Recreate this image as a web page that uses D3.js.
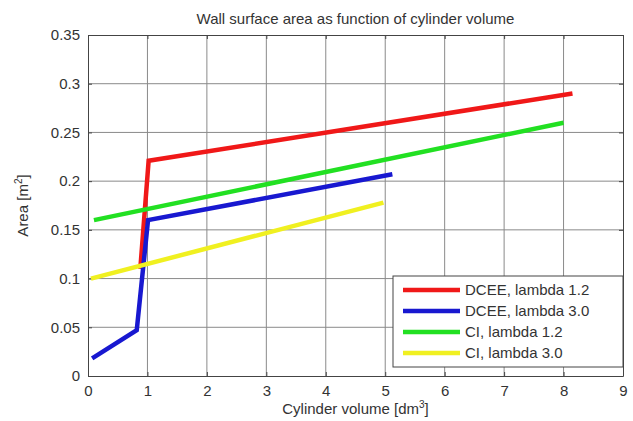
<!DOCTYPE html>
<html lang="en">
<head>
<meta charset="UTF-8">
<title>Wall surface area</title>
<script src="https://cdn.jsdelivr.net/npm/d3@7"></script>
<style>
    body { margin: 0; background: #fff; }
    text { font-family: "Liberation Sans", Arial, sans-serif; fill: #333; }
</style>
</head>
<body>
<script>
    // series: [volume dm3, area m2]
    const seriesNames = ["DCEE, lambda 1.2", "DCEE, lambda 3.0", "CI, lambda 1.2", "CI, lambda 3.0"];
    const seriesColors = ["#f01818", "#1818d0", "#22e022", "#f0f020"];
    const dcee12 = [[0.88, 0.11], [1.02, 0.221], [8.15, 0.29]];
    const dcee30 = [[0.07, 0.018], [0.82, 0.047], [1.01, 0.16], [5.12, 0.207]];
    const ci12 = [[0.1, 0.16], [8.0, 0.26]];
    const ci30 = [[0.05, 0.1], [4.97, 0.178]];
    const xTicks = [0, 1, 2, 3, 4, 5, 6, 7, 8, 9];
    const yTicks = [0, 0.05, 0.1, 0.15, 0.2, 0.25, 0.3, 0.35];

    const width = 633, height = 421;
    const marginLeft = 88, marginRight = 10, marginTop = 35, marginBottom = 45;

    const svg = d3.select("body").append("svg")
        .attr("width", width)
        .attr("height", height);

    const x = d3.scaleLinear().domain([0, 9]).range([marginLeft, width - marginRight]);
    const y = d3.scaleLinear().domain([0, 0.35]).range([height - marginBottom, marginTop]);

    // grid
    svg.append("g").selectAll("line").data(xTicks.slice(1, -1)).join("line")
        .attr("x1", d => x(d)).attr("x2", d => x(d))
        .attr("y1", y(0)).attr("y2", y(0.35))
        .attr("stroke", "#8a8a8a").attr("stroke-width", 1);
    svg.append("g").selectAll("line").data(yTicks.slice(1, -1)).join("line")
        .attr("x1", x(0)).attr("x2", x(9))
        .attr("y1", d => y(d)).attr("y2", d => y(d))
        .attr("stroke", "#8a8a8a").attr("stroke-width", 1);

    // axes, ticks inside on every side
    const fmt = d => d === 0 ? "0" : String(+d.toFixed(2));
    svg.append("g")
        .attr("transform", `translate(0,${y(0)})`)
        .call(d3.axisBottom(x).tickValues(xTicks).tickSizeInner(-4).tickSizeOuter(0).tickPadding(9).tickFormat(fmt));
    svg.append("g")
        .attr("transform", `translate(${x(0)},0)`)
        .call(d3.axisLeft(y).tickValues(yTicks).tickSizeInner(-4).tickSizeOuter(0).tickPadding(8).tickFormat(fmt));
    svg.append("g")
        .attr("transform", `translate(0,${y(0.35)})`)
        .call(d3.axisTop(x).tickValues(xTicks).tickSizeInner(-4).tickSizeOuter(0).tickFormat(""));
    svg.append("g")
        .attr("transform", `translate(${x(9)},0)`)
        .call(d3.axisRight(y).tickValues(yTicks).tickSizeInner(-4).tickSizeOuter(0).tickFormat(""));
    svg.selectAll(".domain, .tick line").attr("stroke", "#444");
    svg.selectAll(".tick text").attr("font-size", 15).attr("fill", "#444");

    // lines
    const line = d3.line().x(d => x(d[0])).y(d => y(d[1]));
    const allSeries = [dcee12, dcee30, ci12, ci30];
    svg.append("g").selectAll("path").data(allSeries).join("path")
        .attr("d", line)
        .attr("fill", "none")
        .attr("stroke", (d, i) => seriesColors[i])
        .attr("stroke-width", 4.5)
        .attr("stroke-linejoin", "miter");

    // titles
    svg.append("text")
        .attr("x", (x(0) + x(9)) / 2).attr("y", 24)
        .attr("text-anchor", "middle").attr("font-size", 15)
        .text("Wall surface area as function of cylinder volume");
    const xl = svg.append("text")
        .attr("x", (x(0) + x(9)) / 2).attr("y", 414)
        .attr("text-anchor", "middle").attr("font-size", 15);
    xl.append("tspan").text("Cylinder volume [dm");
    xl.append("tspan").attr("dy", -6).attr("font-size", 10).text("3");
    xl.append("tspan").attr("dy", 6).text("]");
    const yl = svg.append("text")
        .attr("transform", `translate(28,${(y(0) + y(0.35)) / 2}) rotate(-90)`)
        .attr("text-anchor", "middle").attr("font-size", 15);
    yl.append("tspan").text("Area [m");
    yl.append("tspan").attr("dy", -6).attr("font-size", 10).text("2");
    yl.append("tspan").attr("dy", 6).text("]");

    // legend
    const legend = svg.append("g").attr("transform", "translate(393,276)");
    legend.append("rect")
        .attr("width", 230).attr("height", 91)
        .attr("fill", "#fff").attr("stroke", "#444");
    const rows = legend.selectAll("g").data(seriesNames).join("g")
        .attr("transform", (d, i) => `translate(0,${14 + i * 21})`);
    rows.append("line")
        .attr("x1", 10).attr("x2", 67)
        .attr("stroke", (d, i) => seriesColors[i]).attr("stroke-width", 4.5);
    rows.append("text")
        .attr("x", 72).attr("dy", "0.35em")
        .attr("font-size", 15)
        .text(d => d);
</script>
</body>
</html>
